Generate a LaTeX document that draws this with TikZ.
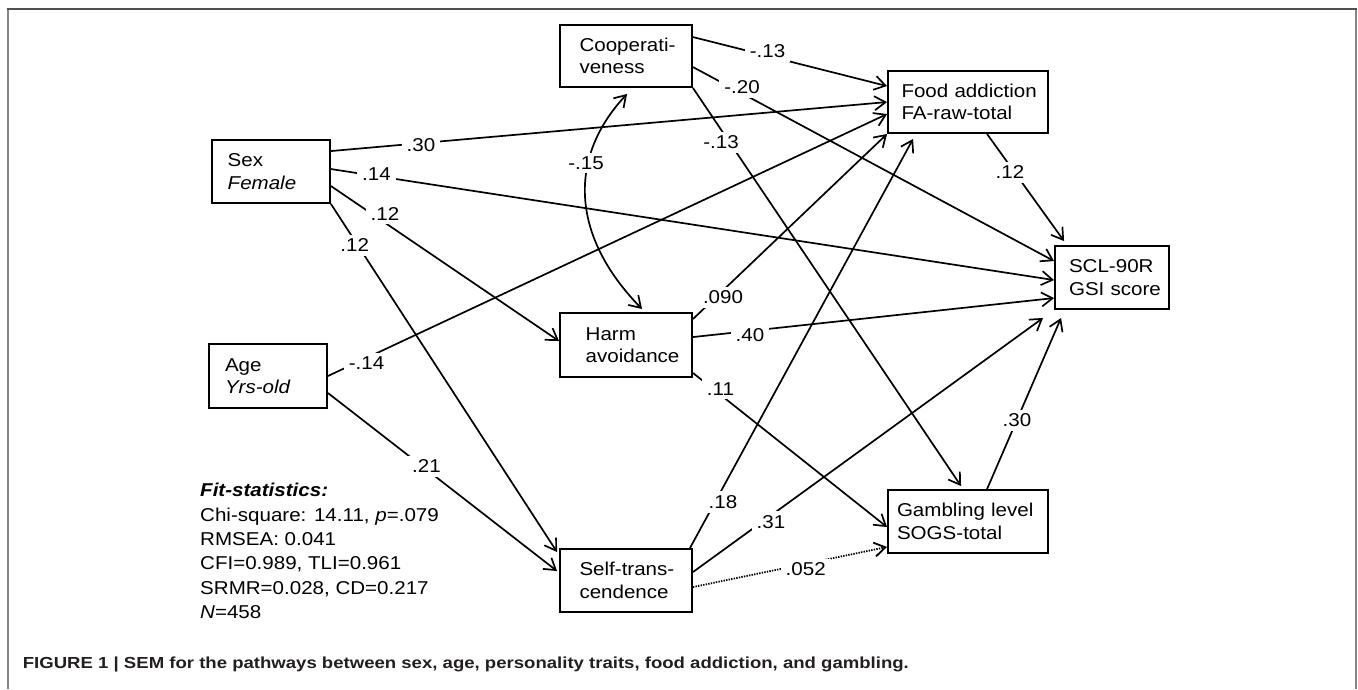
\documentclass[tikz,border=0pt]{standalone}
\usepackage{fontspec}
\usetikzlibrary{arrows.meta,calc}
\newfontfamily\dfont[FakeStretch=1.105]{Liberation Sans}
\newfontfamily\cfont[FakeStretch=1.16]{Liberation Sans}
\definecolor{framedark}{HTML}{505050}
\definecolor{framelight}{HTML}{858585}
\definecolor{captext}{HTML}{231F20}
\begin{document}
\begin{tikzpicture}[x=1pt,y=-1pt,
  box/.style={draw, line width=1.9pt, align=left, inner ysep=0pt,
    font=\dfont\fontsize{18.6}{22.6}\selectfont},
  arr/.style={line width=1.7pt, -{Straight Barb[length=11pt,width=14pt]}},
  darr/.style={line width=1.7pt, {Straight Barb[length=11pt,width=14pt]}-{Straight Barb[length=11pt,width=14pt]}},
  dotarr/.style={arr, line width=1.8pt, dash pattern=on 1.4pt off 1.2pt},
  lab/.style={fill=white, inner xsep=5pt, inner ysep=4pt,
    font=\dfont\fontsize{18.6}{22}\selectfont}]
\useasboundingbox (0,0) rectangle (1358,689);
\fill[white] (0,0) rectangle (1358,689);

% frame
\draw[framelight, line width=2pt] (7.5,689) -- (7.5,9);
\draw[framelight, line width=2pt] (1355.5,9) -- (1355.5,689);
\draw[framedark, line width=2pt] (6.5,9) -- (1356.5,9);

% boxes
\node[box, inner xsep=19.5pt, text width=93pt, minimum height=62pt] (coop) at (626,56)
  {\mbox{Cooperati-}\\\mbox{veness}};
\node[box, inner xsep=13.5pt, text width=133pt, minimum height=62pt] (food) at (968,102)
  {\mbox{Food addiction}\\\mbox{FA-raw-total}};
\node[box, inner xsep=15.7pt, text width=86.6pt, minimum height=63pt] (sex) at (271,171.5)
  {\mbox{Sex}\\\mbox{\itshape Female}};
\node[box, inner xsep=14pt, text width=86pt, minimum height=63pt] (scl) at (1112,277.5)
  {\mbox{SCL-90R}\\\mbox{GSI score}};
\node[box, inner xsep=25.7pt, text width=80.6pt, minimum height=64pt] (harm) at (626,345)
  {\mbox{Harm}\\\mbox{avoidance}};
\node[box, inner xsep=16pt, text width=86pt, minimum height=64pt] (age) at (268,376)
  {\mbox{Age}\\\mbox{\itshape Yrs-old}};
\node[box, inner xsep=19.5pt, text width=93pt, minimum height=63pt] (self) at (626,580.5)
  {\mbox{Self-trans-}\\\mbox{cendence}};
\node[box, inner xsep=9pt, text width=142pt, minimum height=63pt] (gamb) at (968,521.5)
  {\mbox{Gambling level}\\\mbox{SOGS-total}};

% paths
\draw[arr] ($(coop.north east)+(0,13)$) -- ($(food.north west)+(0,16)$);
\draw[arr] ($(coop.north east)+(0,43)$) -- ($(scl.north west)+(0,16)$);
\draw[arr] (coop.south east) -- ($(gamb.north west)+(74,-3)$);
\draw[arr] ($(sex.north east)+(0,12)$) -- ($(food.north west)+(0,32)$);
\draw[arr] ($(sex.north east)+(0,30)$) -- ($(scl.north west)+(0,35)$);
\draw[arr] ($(sex.north east)+(0,47)$) -- ($(harm.north west)+(0,29)$);
\draw[arr] (sex.south east) -- ($(self.north west)+(-2,4)$);
\draw[darr] ($(coop.south west)+(68,6)$) .. controls +(-58,62) and +(-73,-75) .. ($(harm.north west)+(83,-3)$);
\draw[arr] (age.east) -- ($(food.north west)+(0,44)$);
\draw[arr] ($(age.east)+(0,17)$) -- ($(self.north west)+(-2,23)$);
\draw[arr] ($(harm.north east)+(0,7)$) -- (food.south west);
\draw[arr] ($(harm.north east)+(0,25)$) -- ($(scl.north west)+(0,53)$);
\draw[arr] ($(harm.south east)+(0,-5)$) -- ($(gamb.north west)+(0,38)$);
\draw[arr] ($(self.north east)+(-3,0)$) -- ($(food.south west)+(26,5)$);
\draw[arr] ($(self.north east)+(0,24)$) -- ($(scl.south west)+(-11,8)$);
\draw[dotarr] ($(self.north east)+(0,39)$) -- ($(gamb.south west)+(0,-7)$);
\draw[arr] ($(food.south west)+(100,0)$) -- ($(scl.north west)+(10,-4)$);
\draw[arr] ($(gamb.north west)+(100,0)$) -- ($(scl.south west)+(7,8)$);

% coefficient labels
\node[lab] (l1) at (767.5,51) {-.13};
\node[lab] (l2) at (742,87.5) {-.20};
\node[lab] (l3) at (721,142.5) {-.13};
\node[lab] (l4) at (421,145) {.30};
\node[lab] (l5) at (376.5,174.5) {.14};
\node[lab] (l6) at (385,214) {.12};
\node[lab] (l7) at (354.7,245) {.12};
\node[lab] (l8) at (586,163) {-.15};
\node[lab] (l9) at (366.5,363) {-.14};
\node[lab] (l10) at (426.5,466) {.21};
\node[lab] (l11) at (723,297.5) {.090};
\node[lab] (l12) at (750,335) {.40};
\node[lab] (l13) at (720.4,389) {.11};
\node[lab] (l14) at (723,502) {.18};
\node[lab] (l15) at (771,522) {.31};
\node[lab] (l16) at (805.7,569.5) {.052};
\node[lab] (l17) at (1010,172.5) {.12};
\node[lab] (l18) at (1017,420.5) {.30};

% fit statistics
\node[anchor=north west, inner sep=0pt, align=left,
  font=\dfont\fontsize{18.6}{24.3}\selectfont] (fit) at (200,483.2)
  {\textbf{\textit{Fit-statistics:}}\\
   Chi-square: 14.11, \textit{p}=.079\\
   RMSEA: 0.041\\
   CFI=0.989, TLI=0.961\\
   SRMR=0.028, CD=0.217\\
   \textit{N}=458};

% caption
\node[anchor=base west, inner sep=0pt, text=captext,
  font=\cfont\bfseries\fontsize{16}{19}\selectfont] (cap) at (22.7,668)
  {FIGURE 1 | SEM for the pathways between sex, age, personality traits, food addiction, and gambling.};
\end{tikzpicture}
\end{document}
